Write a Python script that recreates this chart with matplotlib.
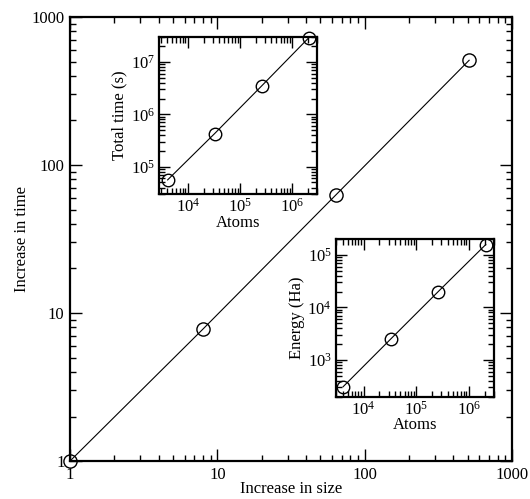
import math
import matplotlib
matplotlib.use("Agg")
import matplotlib.pyplot as plt
from matplotlib.ticker import LogLocator, FuncFormatter, NullFormatter

plt.rcParams['font.family'] = ['Liberation Serif', 'DejaVu Serif']
plt.rcParams['mathtext.fontset'] = 'custom'
plt.rcParams['mathtext.rm'] = 'Liberation Serif'

# main plot: relative increase
sizeInc = [1, 8, 64, 512]
timeInc = [1, 7.8, 63, 510]

# inset data
atoms = [4096, 32768, 262144, 2097152]
totalTime = [5.6e4, 4.3e5, 3.5e6, 2.9e7]
energy = [310, 2.5e3, 2.0e4, 1.57e5]


def styleAxes(ax, majLen, minLen, lw):
    ax.set_xscale('log')
    ax.set_yscale('log')
    ax.tick_params(which='both', direction='in', top=True, right=True, width=1)
    ax.tick_params(which='major', length=majLen)
    ax.tick_params(which='minor', length=minLen)
    for s in ax.spines.values():
        s.set_linewidth(lw)
    ax.xaxis.set_minor_locator(LogLocator(base=10, subs=range(2, 10), numticks=20))
    ax.yaxis.set_minor_locator(LogLocator(base=10, subs=range(2, 10), numticks=20))
    ax.xaxis.set_minor_formatter(NullFormatter())
    ax.yaxis.set_minor_formatter(NullFormatter())


def circles(ax, x, y, ms):
    ax.plot(x, y, color='black', lw=0.8, marker='o', ms=ms,
            mfc='none', mec='black', mew=1.0, clip_on=False, zorder=5)


fig = plt.figure(figsize=(5.30, 4.99), dpi=100)

ax = fig.add_axes([0.132, 0.076, 0.834, 0.890])
styleAxes(ax, 8.6, 4.3, 1.6)
circles(ax, sizeInc, timeInc, 9.5)
ax.set_xlim(1, 1000)
ax.set_ylim(1, 1000)
plainFmt = FuncFormatter(lambda v, p: '%g' % v)
ax.xaxis.set_major_formatter(plainFmt)
ax.yaxis.set_major_formatter(plainFmt)
ax.tick_params(labelsize=12, pad=4)
ax.set_xlabel('Increase in size', fontsize=12, labelpad=-1)
ax.set_ylabel('Increase in time', fontsize=12, labelpad=1)

powFmt = FuncFormatter(lambda v, p: r'$\mathdefault{10^{%d}}$' % round(math.log10(v)))

ax1 = fig.add_axes([0.300, 0.611, 0.298, 0.315])
styleAxes(ax1, 8.0, 4.0, 1.6)
circles(ax1, atoms, totalTime, 9.0)
ax1.set_xlim(2.8e3, 3.0e6)
ax1.set_ylim(3.0e4, 3.0e7)
ax1.xaxis.set_major_formatter(powFmt)
ax1.yaxis.set_major_formatter(powFmt)
ax1.tick_params(labelsize=12, pad=3)
ax1.set_xlabel('Atoms', fontsize=12, labelpad=-1)
ax1.set_ylabel('Total time (s)', fontsize=12, labelpad=2)

ax2 = fig.add_axes([0.634, 0.205, 0.298, 0.316])
styleAxes(ax2, 8.0, 4.0, 1.6)
circles(ax2, atoms, energy, 9.0)
ax2.set_xlim(3.0e3, 3.0e6)
ax2.set_ylim(200, 2.0e5)
ax2.xaxis.set_major_formatter(powFmt)
ax2.yaxis.set_major_formatter(powFmt)
ax2.tick_params(labelsize=12, pad=3)
ax2.set_xlabel('Atoms', fontsize=12, labelpad=-1)
ax2.set_ylabel('Energy (Ha)', fontsize=12, labelpad=2)

fig.savefig('out.png', dpi=100)
